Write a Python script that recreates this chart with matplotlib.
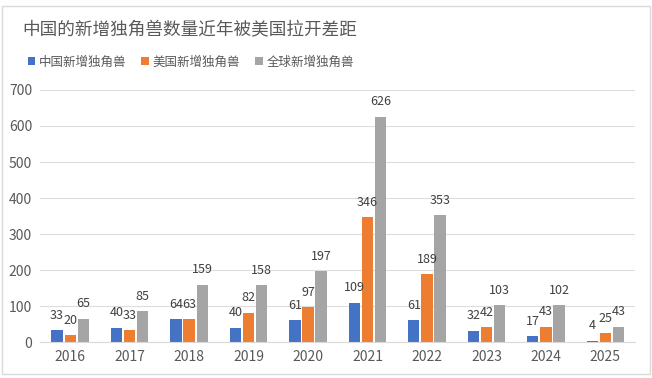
import numpy as np
import matplotlib
matplotlib.use('Agg')
import matplotlib.pyplot as plt
from matplotlib.patches import Rectangle

plt.rcParams['font.family'] = ['Noto Sans CJK SC', 'DejaVu Sans']

years = ['2016', '2017', '2018', '2019', '2020', '2021', '2022', '2023', '2024', '2025']
china = [33, 40, 64, 40, 61, 109, 61, 32, 17, 4]
usa = [20, 33, 63, 82, 97, 346, 189, 42, 43, 25]
world = [65, 85, 159, 158, 197, 626, 353, 103, 102, 43]
series_names = ['中国新增独角兽', '美国新增独角兽', '全球新增独角兽']
colors = ['#4472C4', '#ED7D31', '#A5A5A5']
text_color = '#595959'

fig = plt.figure(figsize=(6.52, 3.78), dpi=100)
ax = fig.add_axes([0.062, 0.095, 0.912, 0.667])

x = np.arange(len(years))
w = 0.19
gap = 0.03
for i, (vals, name, c) in enumerate(zip([china, usa, world], series_names, colors)):
    pos = x + (i - 1) * (w + gap)
    bars = ax.bar(pos, vals, w, color=c, label=name)
    for b, v in zip(bars, vals):
        ax.annotate(str(v), (b.get_x() + b.get_width() / 2, v),
                    xytext=(0, 6), textcoords='offset points',
                    ha='center', va='bottom', fontsize=9, color='#404040')

ax.set_xlim(-0.5, len(years) - 0.5)
ax.set_ylim(0, 700)
ax.set_yticks(range(0, 701, 100))
ax.set_xticks(x)
ax.set_xticklabels(years)
ax.tick_params(axis='both', length=0, labelsize=10, colors=text_color)
ax.tick_params(axis='y', pad=6)
ax.tick_params(axis='x', pad=6)
ax.grid(axis='y', color='#DDDDDD', linewidth=0.8)
ax.set_axisbelow(True)
for s in ['top', 'right', 'left']:
    ax.spines[s].set_visible(False)
ax.spines['bottom'].set_color('#D9D9D9')

fig.text(0.034, 0.92, '中国的新增独角兽数量近年被美国拉开差距', fontsize=12.7,
         color=text_color, va='center', ha='left')
fig.legend(loc='center left', bbox_to_anchor=(0.025, 0.835), ncol=3, frameon=False,
           fontsize=9, handlelength=0.6, handleheight=0.6, handletextpad=0.3,
           columnspacing=1.2, labelcolor=text_color)

fig.patches.append(Rectangle((0.003, 0.01), 0.994, 0.975, transform=fig.transFigure,
                             fill=False, edgecolor='#D9D9D9', linewidth=1))

fig.savefig('out.png', dpi=100)
